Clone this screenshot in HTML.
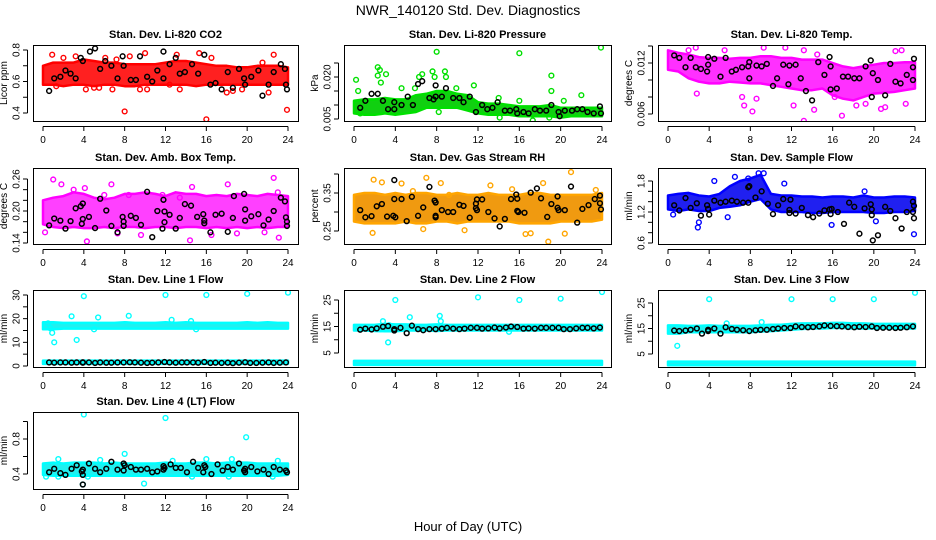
<!DOCTYPE html>
<html><head><meta charset="utf-8"><style>
html,body{margin:0;padding:0;background:#fff;}
svg{display:block;font-family:"Liberation Sans",sans-serif;}
</style></head><body>
<svg id="chart" width="936" height="540" viewBox="0 0 936 540" xmlns="http://www.w3.org/2000/svg">
<rect width="936" height="540" fill="#fff"/>
<text x="468" y="15" text-anchor="middle" font-size="14">NWR_140120  Std. Dev. Diagnostics</text>
<text x="468" y="531" text-anchor="middle" font-size="13">Hour of Day (UTC)</text>
</svg>
<script>
// ---- data arrays ----
const hours = [0,1,2,3,4,5,6,7,8,9,10,11,12,13,14,15,16,17,18,19,20,21,22,23,24];
const xTicks = [0,4,8,12,16,20,24];

// CO2
const co2BandLo = [0.58,0.58,0.57,0.58,0.58,0.57,0.58,0.58,0.57,0.57,0.58,0.58,0.58,0.58,0.58,0.57,0.58,0.58,0.58,0.58,0.58,0.58,0.58,0.58,0.58];
const co2BandHi = [0.70,0.72,0.72,0.72,0.74,0.73,0.72,0.72,0.71,0.71,0.71,0.71,0.72,0.73,0.73,0.72,0.71,0.70,0.70,0.69,0.69,0.70,0.70,0.70,0.69];
const co2OutX = [0.9,2,3.2,4.2,5,5.5,6.1,6.8,7.2,8,8.5,9.5,10,12.4,13.1,13.4,15.3,16,16.5,18,18.6,19.5,21.5,22.1,22.6,23.9,1.3,10.2];
const co2OutY = [0.77,0.75,0.76,0.55,0.56,0.56,0.75,0.55,0.74,0.41,0.76,0.55,0.78,0.58,0.77,0.55,0.78,0.36,0.75,0.53,0.54,0.55,0.72,0.53,0.77,0.42,0.57,0.55];
const co2BlkX = [0.6,1.1,1.7,2.2,2.7,3.2,3.7,3.9,4.6,5.1,5.6,6.1,6.7,7.3,7.8,7.9,8.6,9.1,9.5,10.2,10.7,11.2,11.8,11.8,12.4,13,13.4,13.9,14.6,15.2,15.8,16.4,16.9,17.5,18.1,18.6,19.2,19.7,19.8,20.4,21.1,21.5,22.1,22.6,23.3,23.7,23.8,23.9];
const co2BlkY = [0.54,0.62,0.63,0.67,0.65,0.62,0.75,0.73,0.79,0.81,0.68,0.73,0.70,0.62,0.76,0.70,0.61,0.61,0.76,0.63,0.60,0.67,0.79,0.62,0.71,0.75,0.65,0.66,0.71,0.65,0.77,0.58,0.59,0.55,0.66,0.56,0.68,0.62,0.58,0.63,0.67,0.51,0.58,0.66,0.71,0.68,0.58,0.55];

// Pressure
const prBandLo = [0.007,0.0065,0.0065,0.007,0.0065,0.007,0.0075,0.009,0.009,0.009,0.009,0.008,0.007,0.0065,0.0065,0.0065,0.006,0.006,0.006,0.006,0.0055,0.006,0.006,0.006,0.006];
const prBandHi = [0.0115,0.012,0.012,0.0125,0.012,0.012,0.0135,0.014,0.015,0.015,0.014,0.0135,0.011,0.0105,0.0105,0.010,0.0095,0.0095,0.0095,0.010,0.009,0.009,0.009,0.009,0.009];
const prOutX = [0.2,0.4,2.3,2.5,2.3,3.1,2.6,4.6,5.9,6.3,6.6,7.6,7.8,8.0,8.8,8.9,9.9,11.6,14,14.1,16,16,17.3,19.1,19.1,18.9,20.3,22,23.9,0.6,8.2];
const prOutY = [0.019,0.015,0.0235,0.0225,0.0205,0.021,0.018,0.016,0.016,0.020,0.021,0.022,0.020,0.029,0.022,0.020,0.016,0.017,0.0125,0.0055,0.0285,0.0115,0.0045,0.0205,0.015,0.0055,0.0115,0.0135,0.0305,0.007,0.0075];
const prBlkX = [0.6,1.1,1.7,2.3,2.8,3.3,3.9,3.9,4.6,5.2,5.7,6.2,6.6,7.3,7.7,7.9,7.9,8.5,8.9,9.6,10.2,10.6,11.2,11.8,12.4,12.9,13.4,13.9,14.6,15.1,15.7,15.8,16.4,16.9,17.5,18,18.6,19.1,19.8,19.9,20.4,21.1,21.6,22.1,22.6,23.2,23.8,23.9];
const prBlkY = [0.009,0.0115,0.014,0.014,0.0115,0.0085,0.0085,0.011,0.010,0.013,0.010,0.0175,0.0185,0.0125,0.012,0.017,0.013,0.013,0.016,0.0125,0.0125,0.011,0.013,0.0075,0.010,0.0085,0.009,0.011,0.008,0.008,0.0085,0.007,0.0075,0.007,0.0085,0.008,0.008,0.010,0.0075,0.006,0.008,0.008,0.0085,0.0085,0.0075,0.007,0.0095,0.007];

// Li-820 Temp
const ltBandLo = [0.0112,0.0110,0.0102,0.0098,0.0096,0.0096,0.0098,0.0097,0.0096,0.0096,0.0094,0.0092,0.0090,0.0088,0.0088,0.0090,0.0082,0.0078,0.0076,0.0080,0.0084,0.0085,0.0086,0.0088,0.0090];
const ltBandHi = [0.0135,0.0132,0.0130,0.0127,0.0126,0.0126,0.0125,0.0126,0.0126,0.0128,0.0128,0.0126,0.0126,0.0124,0.0124,0.0124,0.0120,0.0116,0.0114,0.0116,0.0118,0.0120,0.0120,0.0121,0.0121];
const ltOutX = [2,2.7,2.8,5.5,7.2,7.4,8.2,8.6,9.3,9.6,11.4,12.2,13.2,13.2,14.2,14.5,16.2,16.9,18.3,19.2,21.1,22.1,22.7,23.1,20.7];
const ltOutY = [0.0135,0.0138,0.0084,0.0135,0.0080,0.0070,0.0063,0.0078,0.0138,0.0150,0.0138,0.0070,0.0135,0.0052,0.0065,0.0130,0.0080,0.0058,0.0070,0.0072,0.0068,0.0134,0.0135,0.0072,0.0066];
const ltBlkX = [0.6,1.1,1.7,2.2,2.7,3.2,3.8,3.9,3.9,4.5,5.1,5.6,6.2,6.6,7.2,7.8,7.9,7.9,8.6,9.1,9.6,10.2,10.6,11.2,11.7,11.8,12.4,12.9,13.4,14,14.6,15.2,15.7,15.8,15.8,16.4,17,17.5,18.1,18.6,19.2,19.7,19.8,19.9,20.4,21.1,21.6,22.1,22.6,23.2,23.8,23.8,23.9];
const ltBlkY = [0.0129,0.0126,0.0115,0.0126,0.0115,0.0113,0.0110,0.0118,0.0127,0.0125,0.0104,0.0126,0.0110,0.0112,0.0115,0.0116,0.0102,0.0121,0.0117,0.0116,0.0119,0.0093,0.0102,0.0118,0.0095,0.0117,0.0118,0.0102,0.0087,0.0076,0.0121,0.0106,0.0127,0.0116,0.0089,0.0090,0.0104,0.0104,0.0102,0.0102,0.0116,0.0123,0.0080,0.0108,0.0100,0.0082,0.0119,0.0098,0.0096,0.0106,0.0100,0.0115,0.0125];

// Amb Box Temp
const abBandLo = [0.175,0.17,0.168,0.17,0.168,0.168,0.170,0.168,0.170,0.170,0.168,0.170,0.170,0.168,0.170,0.170,0.168,0.170,0.168,0.170,0.168,0.170,0.168,0.170,0.170];
const abBandHi = [0.220,0.225,0.228,0.235,0.232,0.225,0.222,0.225,0.232,0.232,0.235,0.232,0.228,0.235,0.232,0.232,0.228,0.230,0.228,0.232,0.230,0.228,0.232,0.230,0.228];
const abOutX = [1.0,1.8,3.0,4.1,4.3,6.7,0.2,7.3,8.4,9.6,11.7,13.4,14.4,14.6,16.5,18.1,19.0,22.6,23.1,23,6,21.7];
const abOutY = [0.259,0.250,0.240,0.243,0.143,0.250,0.160,0.158,0.230,0.155,0.230,0.225,0.145,0.245,0.155,0.250,0.158,0.262,0.150,0.235,0.23,0.160];
const abBlkX = [0.6,1.1,1.7,2.2,2.7,3.2,3.7,3.8,3.9,3.9,4.5,5.1,5.6,6.2,6.7,7.3,7.8,7.9,7.9,8.6,9.1,9.6,10.2,10.7,11.2,11.7,11.8,11.9,11.9,12.4,13,13.4,13.9,14.5,15.1,15.7,15.8,15.8,16.4,16.9,17.5,18.1,18.6,18.7,19.7,19.8,19.8,20.4,21.1,21.6,22.1,22.6,23.3,23.7,23.8,23.9,23.9];
const abBlkY = [0.173,0.186,0.182,0.167,0.181,0.205,0.209,0.176,0.214,0.185,0.189,0.168,0.223,0.201,0.172,0.160,0.189,0.180,0.172,0.191,0.187,0.174,0.236,0.151,0.200,0.167,0.221,0.199,0.179,0.193,0.167,0.187,0.213,0.210,0.189,0.194,0.182,0.177,0.160,0.193,0.195,0.161,0.187,0.228,0.232,0.203,0.182,0.190,0.194,0.173,0.184,0.200,0.225,0.218,0.188,0.180,0.172];

// Gas Stream RH
const rhBandLo = [0.275,0.27,0.27,0.27,0.27,0.275,0.27,0.27,0.275,0.275,0.27,0.275,0.275,0.275,0.275,0.275,0.27,0.27,0.27,0.27,0.275,0.275,0.275,0.275,0.28];
const rhBandHi = [0.345,0.35,0.35,0.345,0.35,0.345,0.35,0.35,0.345,0.345,0.35,0.345,0.345,0.35,0.345,0.345,0.345,0.35,0.35,0.345,0.345,0.345,0.345,0.345,0.35];
const rhOutX = [1.9,2.7,1.8,7.0,8.4,9.2,10.7,13.2,15.3,16.6,17.1,18.3,18.8,20.4,21.0,23.4,4.6,5.7,6.7];
const rhOutY = [0.385,0.378,0.245,0.39,0.376,0.345,0.252,0.37,0.36,0.242,0.244,0.376,0.222,0.243,0.405,0.358,0.375,0.355,0.255];
const rhBlkX = [0.6,1.1,1.7,2.2,2.7,3.2,3.8,3.9,3.9,4.0,4.6,5.1,5.6,6.2,6.7,7.3,7.8,7.9,7.9,7.9,8.5,9.1,9.6,10.2,10.6,11.2,11.8,11.8,11.9,11.9,12.4,13,13.6,14.1,14.6,15.2,15.7,15.8,15.8,15.9,16.5,17.1,17.7,18.1,18.7,19.1,19.7,19.7,19.8,20.4,21,21.6,22.1,22.7,23.3,23.8,23.8,23.9];
const rhBlkY = [0.305,0.286,0.289,0.315,0.321,0.288,0.290,0.334,0.384,0.286,0.334,0.276,0.340,0.290,0.312,0.366,0.330,0.325,0.290,0.286,0.305,0.300,0.300,0.319,0.316,0.285,0.322,0.310,0.333,0.305,0.333,0.300,0.283,0.262,0.282,0.334,0.346,0.335,0.303,0.300,0.298,0.351,0.362,0.336,0.287,0.321,0.341,0.311,0.305,0.305,0.367,0.272,0.308,0.318,0.334,0.343,0.323,0.307];

// Sample Flow
const sfBandLo = [1.25,1.22,1.25,1.22,1.22,1.28,1.30,1.33,1.40,1.45,1.25,1.20,1.20,1.20,1.18,1.18,1.20,1.20,1.20,1.20,1.18,1.18,1.20,1.20,1.22];
const sfBandHi = [1.52,1.55,1.57,1.52,1.50,1.55,1.70,1.80,1.85,1.92,1.55,1.52,1.52,1.50,1.50,1.48,1.50,1.50,1.48,1.52,1.48,1.48,1.50,1.50,1.48];
const sfOutX = [2.9,3.0,4.5,5.8,9.3,11.3,15.9,19.1,20.2,23.9,0.5,7.8,6.5,8.8];
const sfOutY = [0.90,1.00,1.80,1.10,1.95,1.75,0.95,1.60,1.02,0.77,1.15,1.85,1.88,1.95];
const sfBlkX = [0.6,1.1,1.7,2.2,2.8,3.2,3.8,3.9,4.0,4.5,5.1,5.6,6.2,6.7,7.3,7.8,7.9,7.8,8.5,9.1,9.7,10.2,10.7,11.2,11.8,11.8,11.9,12.4,13,13.6,14.1,14.7,15.2,15.7,15.8,15.9,16.5,17.1,17.6,18.1,18.6,19.1,19.7,19.8,19.8,19.9,20.4,21.1,21.6,22.1,22.7,23.2,23.8,23.8,23.9,23.9];
const sfBlkY = [1.33,1.23,1.47,1.28,1.37,1.13,1.33,1.26,1.15,1.42,1.38,1.40,1.42,1.40,1.38,1.68,1.70,1.38,1.48,1.60,1.36,1.16,1.33,1.45,1.24,1.18,1.44,1.17,1.28,1.14,1.10,1.17,1.23,1.25,1.16,1.26,1.20,0.97,1.38,1.30,0.78,1.27,1.35,1.25,1.14,0.65,0.75,1.30,1.22,1.08,0.88,1.20,1.40,1.20,1.32,1.08];

// Line flows (shared black hours)
const lineBlkX = [0.6,1.1,1.7,2.2,2.8,3.3,3.9,3.9,4.5,5.1,5.6,6.2,6.7,7.3,7.9,8.5,9.0,9.6,10.2,10.7,11.3,11.9,12.4,13.0,13.6,14.1,14.7,15.2,15.8,16.4,16.9,17.5,18.1,18.6,19.2,19.8,20.3,20.9,21.5,22.1,22.6,23.2,23.8];
const l1BandLo = [15.5,15.5,15.8,15.8,15.8,15.8,15.8,15.8,15.8,15.8,15.8,15.8,15.8,15.8,15.8,15.8,15.8,15.8,15.8,15.8,15.8,15.8,15.8,15.8,15.8];
const l1BandHi = [18.5,18.5,18.2,18.2,18.2,18.2,18.2,18.2,18.5,18.2,18.2,18.2,18.5,18.2,18.5,18.2,18.2,18.2,18.2,18.2,18.5,18.2,18.5,18.2,18.2];
const l1LowLo = [0.9,0.9,0.9,0.9,0.9,0.9,0.9,0.9,0.9,0.9,0.9,0.9,0.9,0.9,0.9,0.9,0.9,0.9,0.9,0.9,0.9,0.9,0.9,0.9,0.9];
const l1LowHi = [2.3,2.3,2.3,2.3,2.3,2.3,2.3,2.3,2.3,2.3,2.3,2.3,2.3,2.3,2.3,2.3,2.3,2.3,2.3,2.3,2.3,2.3,2.3,2.3,2.3];
const l1OutX = [0.9,1.1,0.5,2.8,3.3,4,5.4,8.4,12,16,20,24,12.6,14.5,0.7,5,15];
const l1OutY = [14,10,18,21,11,29.5,20.5,21.2,30,30,30.5,31,19.5,19,16,15.5,15.5];
const l1BlkY = [1.5,1.4,1.5,1.5,1.4,1.5,1.6,1.4,1.5,1.3,1.5,1.4,1.4,1.5,1.5,1.6,1.5,1.4,1.3,1.4,1.5,1.7,1.5,1.4,1.5,1.5,1.5,1.4,1.7,1.3,1.4,1.3,1.4,1.2,1.4,1.6,1.3,1.3,1.4,1.5,1.3,1.4,1.5];

const l2BandLo = [13.5,13.5,13.3,13.2,13.2,13.5,13.5,13.5,13.3,13.5,13.5,13.5,13.5,13.5,13.5,13.5,13.5,13.5,13.5,13.5,13.5,13.5,13.5,13.5,13.5];
const l2BandHi = [15.6,15.6,15.6,16.0,15.8,15.8,15.6,15.6,15.8,15.6,15.6,15.6,15.6,15.6,15.6,15.6,15.6,15.6,15.6,15.6,15.6,15.6,15.6,15.6,15.6];
const l2LowLo = [0.5,0.5,0.5,0.5,0.5,0.5,0.5,0.5,0.5,0.5,0.5,0.5,0.5,0.5,0.5,0.5,0.5,0.5,0.5,0.5,0.5,0.5,0.5,0.5,0.5];
const l2LowHi = [2.0,2.0,2.0,2.0,2.0,2.0,2.0,2.0,2.0,2.0,2.0,2.0,2.0,2.0,2.0,2.0,2.0,2.0,2.0,2.0,2.0,2.0,2.0,2.0,2.0];
const l2OutX = [2.8,3.3,3.4,4,5.4,8.3,8.4,12,15,16,20,24];
const l2OutY = [17,9,15.5,25,18.5,19,17,26,13,25,25.5,28];
const l2BlkY = [13.8,14.2,13.9,14.3,14.9,15.2,13.5,14.0,14.5,12.5,15.3,14.0,13.6,14.0,14.0,14.2,14.5,14.2,14.0,14.2,14.5,14.5,14.2,14.3,14.6,14.3,14.6,15.0,14.8,14.2,14.3,14.2,14.5,14.5,14.5,14.5,14.0,14.0,14.3,14.5,14.5,14.3,14.6];

const l3BandLo = [13.0,13.0,13.5,13.5,13.5,13.5,13.5,13.5,13.5,13.8,14.0,14.2,14.5,14.8,15.0,15.0,15.2,15.2,15.0,15.0,15.0,15.0,15.0,15.0,15.0];
const l3BandHi = [16.2,16.2,16.0,16.0,16.2,16.0,16.0,16.0,16.0,16.2,16.5,16.5,16.8,17.0,17.0,17.0,17.2,17.2,17.0,17.0,16.8,16.8,16.8,16.8,16.8];
const l3LowLo = [0.6,0.6,0.6,0.6,0.6,0.6,0.6,0.6,0.6,0.6,0.6,0.6,0.6,0.6,0.6,0.6,0.6,0.6,0.6,0.6,0.6,0.6,0.6,0.6,0.6];
const l3LowHi = [2.0,2.0,2.0,2.0,2.0,2.0,2.0,2.0,2.0,2.0,2.0,2.0,2.0,2.0,2.0,2.0,2.0,2.0,2.0,2.0,2.0,2.0,2.0,2.0,2.0];
const l3OutX = [0.9,4,12,16,20,24,5.7,9.1];
const l3OutY = [8.2,26.5,26.5,26.5,26.5,29,17,17.5];
const l3BlkY = [14.2,14.0,14.2,14.5,15.0,13.0,14.0,14.5,15.0,13.0,15.5,14.8,14.5,14.3,14.0,14.3,14.5,14.5,14.8,15.0,15.2,15.2,15.8,15.6,15.5,15.6,15.8,16.2,16.0,15.9,15.8,15.6,15.5,15.7,15.6,15.8,15.2,15.3,15.3,15.2,15.3,15.5,15.8];

// Line 4 (LT)
const l4BandLo = [0.39,0.38,0.38,0.38,0.38,0.38,0.38,0.38,0.38,0.38,0.38,0.38,0.38,0.38,0.38,0.38,0.38,0.38,0.38,0.38,0.38,0.38,0.38,0.38,0.39];
const l4BandHi = [0.52,0.53,0.52,0.53,0.53,0.53,0.52,0.53,0.52,0.52,0.52,0.52,0.53,0.52,0.52,0.53,0.53,0.52,0.53,0.53,0.53,0.52,0.52,0.52,0.52];
const l4OutX = [3.9,4,12,19.9,8,9.9,0.3,1.5,1.5,4.4,14.6,16,18.5,22.5,18.2,12.7,5.6,23];
const l4OutY = [0.28,1.08,1.04,0.82,0.63,0.29,0.37,0.37,0.57,0.37,0.37,0.57,0.57,0.37,0.37,0.55,0.56,0.55];
const l4BlkX = [0.6,1.1,1.7,2.2,2.8,3.3,3.8,3.9,3.9,3.9,4.5,5.1,5.6,6.2,6.7,7.3,7.9,7.9,8.0,8.6,9.1,9.6,10.2,10.7,11.2,11.8,11.8,11.9,12.5,13,13.5,14.1,14.7,15.2,15.7,15.8,15.9,16.5,17.1,17.6,18.1,18.6,19.2,19.7,19.8,19.8,20.4,21,21.6,22.1,22.6,23.2,23.8,23.9];
const l4BlkY = [0.42,0.46,0.41,0.39,0.46,0.50,0.43,0.45,0.39,0.28,0.52,0.46,0.42,0.46,0.54,0.45,0.52,0.44,0.50,0.48,0.45,0.45,0.46,0.42,0.43,0.49,0.45,0.47,0.51,0.47,0.47,0.42,0.54,0.47,0.42,0.50,0.48,0.40,0.51,0.44,0.48,0.45,0.52,0.44,0.46,0.42,0.48,0.43,0.45,0.40,0.48,0.45,0.44,0.42];

// ---- layout ----
const NS = "http://www.w3.org/2000/svg";
const svg = document.getElementById('chart');
const cols = [{l:33,r:298,x0:43,x24:288},{l:344,r:611,x0:354,x24:602},{l:658,r:925,x0:668,x24:915}];
const rows = [{t:45,b:121},{t:168,b:244},{t:290,b:367},{t:412,b:489}];

function mk(tag, attrs, parent){ const e=document.createElementNS(NS,tag); for(const k in attrs) e.setAttribute(k,attrs[k]); (parent||svg).appendChild(e); return e; }

const panels = [
 {name:'co2',title:'Stan. Dev. Li-820 CO2',ylab:'Licor ppm',c:0,r:0,a:[0.4,113],b:[0.8,50],ticks:[0.4,0.5,0.6,0.7,0.8],labels:['0.4','','0.6','','0.8'],color:'#ff0000',fill:'#ff2020',
  bands:[[co2BandLo,co2BandHi]],out:[co2OutX,co2OutY],blk:[co2BlkX,co2BlkY]},
 {name:'pressure',title:'Stan. Dev. Li-820 Pressure',ylab:'kPa',c:1,r:0,a:[0.005,119],b:[0.020,77],ticks:[0.005,0.010,0.015,0.020,0.025],labels:['0.005','','','0.020',''],color:'#00e000',fill:'#10d010',
  bands:[[prBandLo,prBandHi]],out:[prOutX,prOutY],blk:[prBlkX,prBlkY]},
 {name:'li820-temp',title:'Stan. Dev. Li-820 Temp.',ylab:'degrees C',c:2,r:0,a:[0.006,114],b:[0.012,63],ticks:[0.006,0.008,0.010,0.012,0.014],labels:['0.006','','','0.012',''],color:'#ff00ff',fill:'#ff30ff',
  bands:[[ltBandLo,ltBandHi]],out:[ltOutX,ltOutY],blk:[ltBlkX,ltBlkY]},
 {name:'amb-box-temp',title:'Stan. Dev. Amb. Box Temp.',ylab:'degrees C',c:0,r:1,a:[0.14,243],b:[0.26,179],ticks:[0.14,0.16,0.18,0.20,0.22,0.24,0.26],labels:['0.14','','','0.20','','','0.26'],color:'#ff00ff',fill:'#ff40ff',
  bands:[[abBandLo,abBandHi]],out:[abOutX,abOutY],blk:[abBlkX,abBlkY]},
 {name:'gas-stream-rh',title:'Stan. Dev. Gas Stream RH',ylab:'percent',c:1,r:1,a:[0.25,231],b:[0.35,193],ticks:[0.25,0.30,0.35,0.40],labels:['0.25','','0.35',''],color:'#ffa500',fill:'#f09a10',
  bands:[[rhBandLo,rhBandHi]],out:[rhOutX,rhOutY],blk:[rhBlkX,rhBlkY]},
 {name:'sample-flow',title:'Stan. Dev. Sample Flow',ylab:'ml/min',c:2,r:1,a:[0.6,243],b:[1.8,181],ticks:[0.6,0.8,1.0,1.2,1.4,1.6,1.8],labels:['0.6','','','1.2','','','1.8'],color:'#0000ff',fill:'#2020f0',
  bands:[[sfBandLo,sfBandHi]],out:[sfOutX,sfOutY],blk:[sfBlkX,sfBlkY]},
 {name:'line1-flow',title:'Stan. Dev. Line 1 Flow',ylab:'ml/min',c:0,r:2,a:[0,366],b:[30,295],ticks:[0,5,10,15,20,25,30],labels:['0','','10','','20','','30'],color:'#00ffff',fill:'#20f0f0',
  bands:[[l1BandLo,l1BandHi],[l1LowLo,l1LowHi]],out:[l1OutX,l1OutY],blk:[lineBlkX,l1BlkY]},
 {name:'line2-flow',title:'Stan. Dev. Line 2 Flow',ylab:'ml/min',c:1,r:2,a:[5,353],b:[25,300],ticks:[5,10,15,20,25],labels:['5','','15','','25'],color:'#00ffff',fill:'#20f0f0',
  bands:[[l2BandLo,l2BandHi],[l2LowLo,l2LowHi]],out:[l2OutX,l2OutY],blk:[lineBlkX,l2BlkY]},
 {name:'line3-flow',title:'Stan. Dev. Line 3 Flow',ylab:'ml/min',c:2,r:2,a:[5,354],b:[25,303],ticks:[5,10,15,20,25],labels:['5','','15','','25'],color:'#00ffff',fill:'#20f0f0',
  bands:[[l3BandLo,l3BandHi],[l3LowLo,l3LowHi]],out:[l3OutX,l3OutY],blk:[lineBlkX,l3BlkY]},
 {name:'line4-lt-flow',title:'Stan. Dev. Line 4 (LT) Flow',ylab:'ml/min',c:0,r:3,a:[0.4,474],b:[0.8,439],ticks:[0.4,0.6,0.8,1.0],labels:['0.4','','0.8',''],color:'#00ffff',fill:'#20f0f0',
  bands:[[l4BandLo,l4BandHi]],out:[l4OutX,l4OutY],blk:[l4BlkX,l4BlkY]}
];

panels.forEach(p=>{
  const C=cols[p.c], R=rows[p.r];
  const xs = h => C.x0 + (C.x24-C.x0)*h/24;
  const ys = v => p.a[1] + (p.b[1]-p.a[1])*(v-p.a[0])/(p.b[0]-p.a[0]);
  const g = mk('g',{});
  
  
  const clipId='clip-'+p.name;
  const cp=mk('clipPath',{id:clipId},g); mk('rect',{x:C.l,y:R.t,width:C.r-C.l,height:R.b-R.t},cp);
  const plot = mk('g',{'clip-path':'url(#'+clipId+')'},g);
  // bands
  p.bands.forEach((bd,i)=>{
    let pts=[];
    hours.forEach((h,j)=>pts.push(xs(h).toFixed(1)+','+ys(bd[1][j]).toFixed(1)));
    for(let j=hours.length-1;j>=0;j--) pts.push(xs(hours[j]).toFixed(1)+','+ys(bd[0][j]).toFixed(1));
    const poly=mk('polygon',{points:pts.join(' '),fill:p.fill,stroke:p.color,'stroke-width':2.5,'stroke-linejoin':'round'},plot);
    
    
  });
  // outliers
  p.out[0].forEach((x,i)=>{
    const c=mk('circle',{cx:xs(x),cy:ys(p.out[1][i]),r:2.4,fill:'none',stroke:p.color,'stroke-width':1.4},plot);
    
    
  });
  // black points
  p.blk[0].forEach((x,i)=>{
    const c=mk('circle',{cx:xs(x),cy:ys(p.blk[1][i]),r:2.4,fill:'none',stroke:'#000','stroke-width':1.5},plot);
    
    
  });
  // box
  const box=mk('rect',{x:C.l+0.5,y:R.t+0.5,width:C.r-C.l,height:R.b-R.t,fill:'none',stroke:'#000','stroke-width':1},g);
  
  
  // title
  const t=mk('text',{x:(C.l+C.r)/2,y:R.t-7,'text-anchor':'middle','font-size':11,'font-weight':'bold'},g);
  t.textContent=p.title;
  
  
  // x axis
  const xa=mk('g',{},g);
  
  
  mk('line',{x1:xs(0),x2:xs(24),y1:R.b+5.5,y2:R.b+5.5,stroke:'#000'},xa);
  xTicks.forEach(h=>{
    mk('line',{x1:xs(h),x2:xs(h),y1:R.b+5.5,y2:R.b+10,stroke:'#000'},xa);
    const tl=mk('text',{x:xs(h),y:R.b+22,'text-anchor':'middle','font-size':10},xa);
    tl.textContent=h;
  });
  // y axis
  const ya=mk('g',{},g);
  
  
  const yt0=ys(p.ticks[0]), yt1=ys(p.ticks[p.ticks.length-1]);
  const ax=C.l-5.5;
  mk('line',{x1:ax,x2:ax,y1:yt0,y2:yt1,stroke:'#000'},ya);
  p.ticks.forEach((v,i)=>{
    const y=ys(v);
    mk('line',{x1:ax,x2:ax-4.5,y1:y,y2:y,stroke:'#000'},ya);
    if(p.labels[i]){
      const tl=mk('text',{x:0,y:0,'text-anchor':'middle','font-size':10,transform:'translate('+(ax-8)+','+y+') rotate(-90)'},ya);
      tl.textContent=p.labels[i];
    }
  });
  const yl=mk('text',{x:0,y:0,'text-anchor':'middle','font-size':10,transform:'translate('+(C.l-26)+','+((R.t+R.b)/2)+') rotate(-90)'},g);
  yl.textContent=p.ylab;
  
  
});
</script>
</body></html>
